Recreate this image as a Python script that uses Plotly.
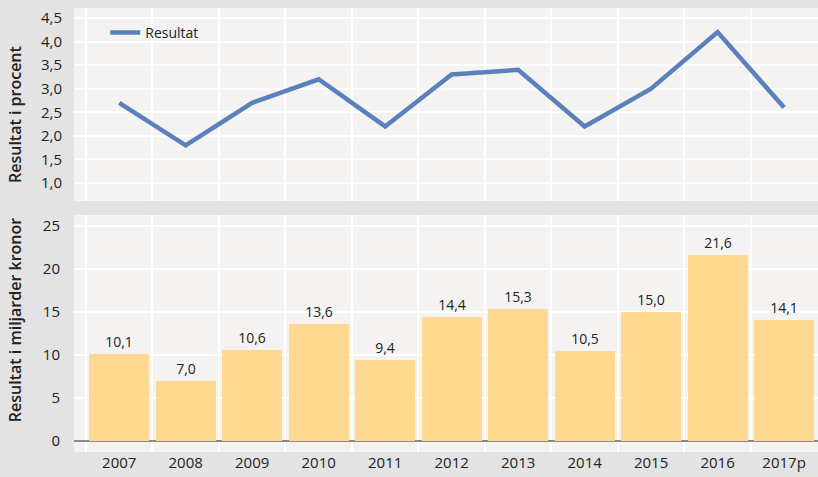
import plotly.graph_objects as go
from plotly.subplots import make_subplots

years = ["2007", "2008", "2009", "2010", "2011", "2012", "2013", "2014", "2015", "2016", "2017p"]
procent = [2.7, 1.8, 2.7, 3.2, 2.2, 3.3, 3.4, 2.2, 3.0, 4.2, 2.6]
miljarder = [10.1, 7.0, 10.6, 13.6, 9.4, 14.4, 15.3, 10.5, 15.0, 21.6, 14.1]
titles = ["Resultat i procent", "Resultat i miljarder kronor"]

xpos = list(range(len(years)))
FONT = "Open Sans"
TXT = "#222222"

fig = make_subplots(rows=2, cols=1, shared_xaxes=False, vertical_spacing=0.0)

fig.add_trace(go.Scatter(x=xpos, y=procent, mode="lines", name="Resultat",
                         line=dict(color="#5b81bd", width=4.5)), row=1, col=1)
fig.add_trace(go.Bar(x=xpos, y=miljarder, width=0.9, marker_color="#fed98f",
                     marker_line_width=0,
                     text=[f"{v:.1f}".replace(".", ",") for v in miljarder],
                     textposition="outside", cliponaxis=False,
                     textfont=dict(size=14, color=TXT, family=FONT),
                     showlegend=False), row=2, col=1)

xcommon = dict(range=[-0.68, 10.51], showgrid=False, zeroline=False,
               minor=dict(tick0=0.5, dtick=1, showgrid=True, gridcolor="#ffffff", gridwidth=1.5),
               showline=False, ticks="")

fig.update_layout(
    width=818, height=477,
    margin=dict(l=74, r=0, t=8, b=25),
    paper_bgcolor="#e3e3e3", plot_bgcolor="#f4f3f2",
    separators=", ",
    font=dict(family=FONT, color=TXT, size=14),
    bargap=0,
    legend=dict(x=0.042, y=0.98, xanchor="left", yanchor="top", bgcolor="rgba(0,0,0,0)",
                font=dict(size=14, color=TXT), itemwidth=30),
    xaxis=dict(domain=[0, 1], showticklabels=False, **xcommon),
    xaxis2=dict(domain=[0, 1], tickmode="array", tickvals=xpos, ticktext=years,
                tickfont=dict(size=15, color=TXT), **xcommon),
    yaxis=dict(domain=[0.5653, 1.0], range=[0.62, 4.71], tickvals=[1.0, 1.5, 2.0, 2.5, 3.0, 3.5, 4.0, 4.5],
               tickformat=".1f", gridcolor="#ffffff", gridwidth=1.5, zeroline=False,
               tickfont=dict(size=15, color=TXT), ticks="outside", ticklen=8, tickcolor="rgba(0,0,0,0)"),
    yaxis2=dict(domain=[0, 0.5338], range=[-1.28, 26.28], tickvals=[0, 5, 10, 15, 20, 25],
                gridcolor="#ffffff", gridwidth=1.5, zeroline=True, zerolinecolor="#8a8a8a",
                zerolinewidth=2, tickfont=dict(size=15, color=TXT),
                ticks="outside", ticklen=10, tickcolor="rgba(0,0,0,0)"),
)

for text, ypaper in zip(titles, [0.759, 0.297]):
    fig.add_annotation(text=text, xref="paper", yref="paper", x=-0.0793, y=ypaper,
                       xanchor="center", yanchor="middle", textangle=-90, showarrow=False,
                       font=dict(size=16, color=TXT, family=FONT, weight=600))

fig.write_html("out.html", config={"displayModeBar": False},
               post_script="document.body.style.margin='0';document.body.style.overflow='hidden';")
